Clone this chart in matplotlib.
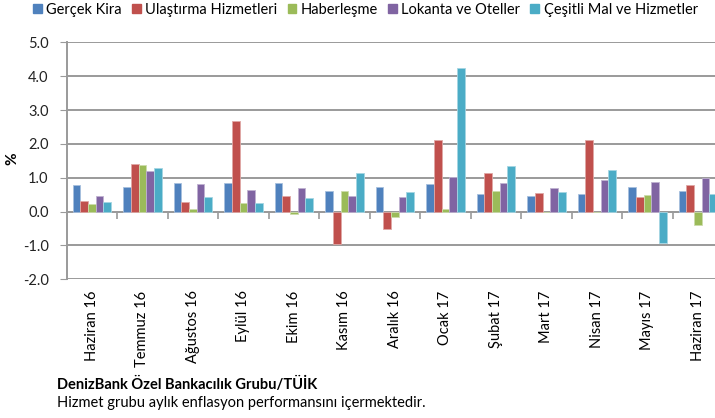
import matplotlib
matplotlib.use('Agg')
import matplotlib.pyplot as plt
import numpy as np
from matplotlib.patches import Patch

plt.rcParams['font.family'] = ['Lato', 'DejaVu Sans']

months = ['Haziran 16', 'Temmuz 16', 'Ağustos 16', 'Eylül 16', 'Ekim 16', 'Kasım 16',
          'Aralık 16', 'Ocak 17', 'Şubat 17', 'Mart 17', 'Nisan 17', 'Mayıs 17', 'Haziran 17']
series_names = ['Gerçek Kira', 'Ulaştırma Hizmetleri', 'Haberleşme',
                'Lokanta ve Oteller', 'Çeşitli Mal ve Hizmetler']
kira = [0.80, 0.72, 0.84, 0.84, 0.84, 0.60, 0.72, 0.82, 0.53, 0.47, 0.51, 0.74, 0.61]
ulastirma = [0.30, 1.41, 0.28, 2.68, 0.47, -0.97, -0.52, 2.12, 1.14, 0.55, 2.12, 0.42, 0.78]
haberlesme = [0.23, 1.37, 0.08, 0.24, -0.07, 0.62, -0.16, 0.08, 0.62, 0.0, 0.0, 0.49, -0.40]
lokanta = [0.47, 1.21, 0.81, 0.64, 0.70, 0.47, 0.42, 1.03, 0.84, 0.70, 0.94, 0.87, 1.00]
cesitli = [0.28, 1.29, 0.42, 0.26, 0.39, 1.14, 0.57, 4.23, 1.36, 0.58, 1.24, -0.92, 0.51]

colors = ['#4F81BD', '#C0504D', '#9BBB59', '#8064A2', '#4BACC6']
edges = ['#A7C0DE', '#E0A8A6', '#CDDDAC', '#BFB1D0', '#A5D5E2']
grid_c = '#9A9A9A'

fig = plt.figure(figsize=(7.15, 4.18), dpi=100)
ax = fig.add_axes([0.0933, 0.3318, 0.918, 0.567])

x = np.arange(len(months))
w = 0.152
data = [kira, ulastirma, haberlesme, lokanta, cesitli]
for i, vals in enumerate(data):
    ax.bar(x + (i - 2) * w, vals, w, color=colors[i], edgecolor=edges[i], linewidth=0.6, zorder=3)

ax.set_xlim(-0.5, len(months) - 0.5)
ax.set_ylim(-2, 5)
yt = np.arange(-2, 5.1, 1)
ax.set_yticks(yt)
ax.set_yticklabels(['%.1f' % v for v in yt], fontsize=10.5, color='#222222')
ax.yaxis.grid(True, color=grid_c, linewidth=1.4, zorder=0)
ax.tick_params(axis='y', length=5, color=grid_c, pad=8)

ax.set_xticks(x)
ax.set_xticklabels(months, rotation=90, fontsize=10.5, va='top', ha='center')
ax.tick_params(axis='x', length=0, pad=8)

for s in ['top', 'right', 'bottom']:
    ax.spines[s].set_visible(False)
ax.spines['left'].set_color(grid_c)
ax.spines['left'].set_linewidth(1.4)

# category axis at zero
sec = ax.secondary_xaxis(2 / 7)
sec.set_xticks(np.arange(0.5, len(months) - 0.5, 1))
sec.set_xticklabels([])
sec.tick_params(length=5, color=grid_c, width=1.2, direction='out')
sec.spines['bottom'].set_color(grid_c)
sec.spines['bottom'].set_linewidth(1.4)

fig.text(12 / 715, 1 - 159 / 418, '%', fontsize=11, fontweight='bold', rotation=90,
         ha='center', va='center')

handles = [Patch(facecolor=c, edgecolor=c) for c in colors]
fig.legend(handles, series_names, loc='center left', bbox_to_anchor=(33 / 715, 1 - 10 / 418),
           ncol=5, frameon=False, fontsize=10.5, handlelength=0.6, handleheight=0.6,
           handletextpad=0.3, columnspacing=0.7, borderaxespad=0, borderpad=0)

fig.text(57 / 715, 1 - 384 / 418, 'DenizBank Özel Bankacılık Grubu/TÜİK',
         fontweight='bold', fontsize=10.5, va='center')
fig.text(57 / 715, 1 - 403 / 418, 'Hizmet grubu aylık enflasyon performansını içermektedir.',
         fontsize=10.5, va='center')

fig.savefig('out.png', dpi=100)
